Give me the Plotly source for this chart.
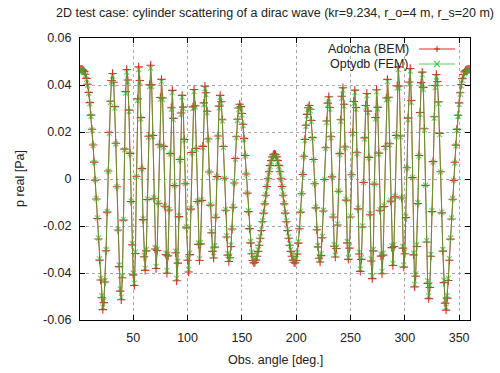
import plotly.graph_objects as go

# Observation angles [deg], one sample per degree
angles = list(range(1, 361))

# Real part of the pressure at r_s, boundary element solution
p_bem = [
    0.0467, 0.0467, 0.0466, 0.0463, 0.0457, 0.0446, 0.0428, 0.0403, 0.0368, 0.0325,
    0.0272, 0.0212, 0.0145, 0.0072, -0.0005, -0.0085, -0.0168, -0.0255, -0.0345, -0.0430,
    -0.0505, -0.0556, -0.0526, -0.0438, -0.0305, -0.0141, 0.0034, 0.0198, 0.0331, 0.0419,
    0.0449, 0.0412, 0.0308, 0.0152, -0.0033, -0.0217, -0.0373, -0.0477, -0.0514, -0.0420,
    -0.0175, 0.0127, 0.0372, 0.0466, 0.0421, 0.0293, 0.0109, -0.0096, -0.0280, -0.0408,
    -0.0453, -0.0317, 0.0012, 0.0341, 0.0477, 0.0419, 0.0261, 0.0044, -0.0173, -0.0331,
    -0.0389, -0.0306, -0.0087, 0.0182, 0.0401, 0.0484, 0.0401, 0.0185, -0.0082, -0.0298,
    -0.0381, -0.0304, -0.0103, 0.0146, 0.0347, 0.0424, 0.0345, 0.0139, -0.0116, -0.0322,
    -0.0401, -0.0327, -0.0132, 0.0108, 0.0303, 0.0377, 0.0258, -0.0028, -0.0314, -0.0433,
    -0.0358, -0.0160, 0.0083, 0.0281, 0.0356, 0.0306, 0.0168, -0.0020, -0.0208, -0.0346,
    -0.0396, -0.0322, -0.0128, 0.0113, 0.0307, 0.0381, 0.0312, 0.0130, -0.0096, -0.0278,
    -0.0347, -0.0276, -0.0091, 0.0139, 0.0324, 0.0395, 0.0367, 0.0288, 0.0170, 0.0030,
    -0.0111, -0.0229, -0.0308, -0.0336, -0.0290, -0.0163, 0.0010, 0.0183, 0.0310, 0.0356,
    0.0329, 0.0252, 0.0138, 0.0003, -0.0133, -0.0247, -0.0324, -0.0351, -0.0335, -0.0287,
    -0.0213, -0.0120, -0.0017, 0.0087, 0.0180, 0.0254, 0.0302, 0.0318, 0.0308, 0.0279,
    0.0233, 0.0172, 0.0100, 0.0021, -0.0060, -0.0139, -0.0211, -0.0272, -0.0318, -0.0347,
    -0.0357, -0.0354, -0.0345, -0.0329, -0.0308, -0.0282, -0.0252, -0.0219, -0.0182, -0.0145,
    -0.0106, -0.0069, -0.0032, 0.0001, 0.0031, 0.0057, 0.0078, 0.0094, 0.0103, 0.0106,
    0.0103, 0.0094, 0.0078, 0.0057, 0.0031, 0.0001, -0.0032, -0.0069, -0.0106, -0.0145,
    -0.0182, -0.0219, -0.0252, -0.0282, -0.0308, -0.0329, -0.0345, -0.0354, -0.0357, -0.0347,
    -0.0319, -0.0273, -0.0212, -0.0141, -0.0063, 0.0019, 0.0097, 0.0168, 0.0229, 0.0275,
    0.0303, 0.0313, 0.0297, 0.0249, 0.0176, 0.0083, -0.0020, -0.0123, -0.0216, -0.0289,
    -0.0337, -0.0353, -0.0326, -0.0250, -0.0136, -0.0002, 0.0133, 0.0247, 0.0323, 0.0350,
    0.0304, 0.0180, 0.0009, -0.0162, -0.0286, -0.0332, -0.0296, -0.0196, -0.0052, 0.0108,
    0.0252, 0.0352, 0.0388, 0.0318, 0.0136, -0.0090, -0.0272, -0.0342, -0.0294, -0.0162,
    0.0018, 0.0198, 0.0330, 0.0378, 0.0304, 0.0112, -0.0127, -0.0319, -0.0393, -0.0342,
    -0.0204, -0.0015, 0.0175, 0.0313, 0.0364, 0.0289, 0.0092, -0.0152, -0.0349, -0.0424,
    -0.0306, -0.0022, 0.0262, 0.0380, 0.0305, 0.0110, -0.0133, -0.0328, -0.0403, -0.0324,
    -0.0117, 0.0138, 0.0345, 0.0424, 0.0348, 0.0150, -0.0094, -0.0292, -0.0368, -0.0287,
    -0.0076, 0.0185, 0.0396, 0.0477, 0.0396, 0.0183, -0.0081, -0.0294, -0.0375, -0.0318,
    -0.0164, 0.0048, 0.0259, 0.0413, 0.0470, 0.0334, 0.0006, -0.0323, -0.0459, -0.0414,
    -0.0287, -0.0104, 0.0100, 0.0283, 0.0410, 0.0455, 0.0390, 0.0214, -0.0027, -0.0268,
    -0.0444, -0.0509, -0.0462, -0.0329, -0.0138, 0.0074, 0.0265, 0.0398, 0.0445, 0.0415,
    0.0328, 0.0194, 0.0031, -0.0144, -0.0307, -0.0441, -0.0528, -0.0558, -0.0507, -0.0432,
    -0.0346, -0.0256, -0.0170, -0.0086, -0.0006, 0.0071, 0.0144, 0.0211, 0.0271, 0.0324,
    0.0367, 0.0402, 0.0427, 0.0445, 0.0456, 0.0462, 0.0465, 0.0466, 0.0467, 0.0467,
]

# Same quantity, finite element solution
p_fem = [
    0.0462, 0.0463, 0.0462, 0.0459, 0.0453, 0.0442, 0.0424, 0.0399, 0.0364, 0.0321,
    0.0268, 0.0209, 0.0143, 0.0071, -0.0004, -0.0083, -0.0165, -0.0251, -0.0340, -0.0423,
    -0.0496, -0.0545, -0.0518, -0.0432, -0.0301, -0.0139, 0.0033, 0.0195, 0.0326, 0.0411,
    0.0439, 0.0404, 0.0303, 0.0150, -0.0032, -0.0213, -0.0366, -0.0468, -0.0503, -0.0412,
    -0.0172, 0.0124, 0.0365, 0.0455, 0.0413, 0.0288, 0.0107, -0.0094, -0.0275, -0.0400,
    -0.0443, -0.0311, 0.0011, 0.0334, 0.0466, 0.0411, 0.0256, 0.0043, -0.0170, -0.0324,
    -0.0380, -0.0300, -0.0085, 0.0178, 0.0393, 0.0472, 0.0393, 0.0181, -0.0080, -0.0292,
    -0.0372, -0.0298, -0.0101, 0.0143, 0.0340, 0.0414, 0.0338, 0.0136, -0.0114, -0.0315,
    -0.0390, -0.0320, -0.0129, 0.0106, 0.0297, 0.0368, 0.0253, -0.0027, -0.0307, -0.0422,
    -0.0350, -0.0157, 0.0081, 0.0275, 0.0348, 0.0300, 0.0165, -0.0020, -0.0204, -0.0338,
    -0.0385, -0.0315, -0.0125, 0.0111, 0.0300, 0.0372, 0.0306, 0.0127, -0.0094, -0.0272,
    -0.0339, -0.0270, -0.0089, 0.0136, 0.0317, 0.0385, 0.0359, 0.0282, 0.0167, 0.0029,
    -0.0109, -0.0224, -0.0301, -0.0328, -0.0284, -0.0160, 0.0010, 0.0179, 0.0303, 0.0347,
    0.0322, 0.0247, 0.0135, 0.0003, -0.0130, -0.0242, -0.0317, -0.0342, -0.0327, -0.0281,
    -0.0209, -0.0118, -0.0017, 0.0085, 0.0176, 0.0249, 0.0295, 0.0310, 0.0301, 0.0273,
    0.0228, 0.0168, 0.0098, 0.0021, -0.0059, -0.0136, -0.0207, -0.0266, -0.0311, -0.0339,
    -0.0348, -0.0345, -0.0337, -0.0321, -0.0301, -0.0275, -0.0246, -0.0214, -0.0178, -0.0142,
    -0.0104, -0.0068, -0.0032, 0.0000, 0.0029, 0.0054, 0.0074, 0.0089, 0.0097, 0.0100,
    0.0097, 0.0089, 0.0074, 0.0054, 0.0029, 0.0000, -0.0032, -0.0068, -0.0104, -0.0142,
    -0.0178, -0.0214, -0.0246, -0.0275, -0.0301, -0.0321, -0.0337, -0.0345, -0.0348, -0.0339,
    -0.0312, -0.0267, -0.0208, -0.0138, -0.0062, 0.0019, 0.0095, 0.0164, 0.0224, 0.0269,
    0.0296, 0.0306, 0.0290, 0.0244, 0.0172, 0.0081, -0.0020, -0.0120, -0.0211, -0.0283,
    -0.0329, -0.0344, -0.0318, -0.0244, -0.0133, -0.0002, 0.0130, 0.0241, 0.0315, 0.0341,
    0.0297, 0.0176, 0.0009, -0.0158, -0.0279, -0.0324, -0.0289, -0.0191, -0.0051, 0.0106,
    0.0246, 0.0343, 0.0378, 0.0310, 0.0133, -0.0088, -0.0266, -0.0334, -0.0287, -0.0158,
    0.0018, 0.0193, 0.0322, 0.0369, 0.0297, 0.0109, -0.0124, -0.0311, -0.0383, -0.0334,
    -0.0199, -0.0015, 0.0171, 0.0305, 0.0355, 0.0282, 0.0090, -0.0148, -0.0340, -0.0413,
    -0.0299, -0.0021, 0.0256, 0.0371, 0.0298, 0.0107, -0.0130, -0.0320, -0.0393, -0.0316,
    -0.0114, 0.0135, 0.0337, 0.0414, 0.0340, 0.0146, -0.0092, -0.0285, -0.0359, -0.0280,
    -0.0074, 0.0181, 0.0387, 0.0465, 0.0387, 0.0179, -0.0079, -0.0287, -0.0366, -0.0310,
    -0.0160, 0.0047, 0.0253, 0.0403, 0.0459, 0.0326, 0.0006, -0.0315, -0.0448, -0.0404,
    -0.0280, -0.0101, 0.0098, 0.0276, 0.0400, 0.0444, 0.0381, 0.0209, -0.0026, -0.0262,
    -0.0433, -0.0497, -0.0451, -0.0321, -0.0135, 0.0072, 0.0259, 0.0389, 0.0434, 0.0405,
    0.0320, 0.0189, 0.0030, -0.0141, -0.0300, -0.0430, -0.0515, -0.0545, -0.0496, -0.0423,
    -0.0339, -0.0251, -0.0166, -0.0084, -0.0006, 0.0069, 0.0141, 0.0207, 0.0266, 0.0318,
    0.0361, 0.0396, 0.0421, 0.0439, 0.0450, 0.0457, 0.0460, 0.0461, 0.0462, 0.0462,
]

series_names = ["Adocha (BEM)", "Optydb (FEM)"]
x_ticks = [50, 100, 150, 200, 250, 300, 350]
y_ticks = [-0.06, -0.04, -0.02, 0, 0.02, 0.04, 0.06]
y_tick_text = ["-0.06", "-0.04", "-0.02", "0", "0.02", "0.04", "0.06"]

RED = "#e02828"
GREEN = "#30c030"
FONT = "Liberation Sans, Arial, sans-serif"
TXT = "#222222"

fig = go.Figure()
fig.add_trace(go.Scatter(
    x=angles, y=p_bem, mode="lines+markers", name=series_names[0],
    line=dict(color=RED, width=1),
    marker=dict(symbol="cross-thin", size=6, line=dict(color=RED, width=1.1)),
))
fig.add_trace(go.Scatter(
    x=angles, y=p_fem, mode="lines+markers", name=series_names[1],
    line=dict(color=GREEN, width=1), opacity=0.7,
    marker=dict(symbol="x-thin", size=5, line=dict(color=GREEN, width=1.1)),
))

axis_common = dict(
    showline=True, linecolor="black", linewidth=1, mirror="ticks",
    ticks="inside", ticklen=5, tickcolor="black",
    showgrid=True, gridcolor="#a8a8a8", griddash="dot", gridwidth=1,
    zeroline=False, tickfont=dict(family=FONT, size=12.5, color=TXT),
)

fig.update_layout(
    width=500, height=373,
    margin=dict(l=80, r=30, t=38, b=53),
    paper_bgcolor="white", plot_bgcolor="white",
    showlegend=False,
    font=dict(family=FONT, size=12.5, color=TXT),
    title=dict(
        text="2D test case: cylinder scattering of a dirac wave (kr=9.234, r_o=4 m, r_s=20 m)",
        x=0.55, xanchor="center", y=1 - 13 / 373, yanchor="middle",
        font=dict(family=FONT, size=12.5, color=TXT),
    ),
    xaxis=dict(range=[1, 360], tickvals=x_ticks, ticklabelstandoff=6, **axis_common),
    yaxis=dict(range=[-0.06, 0.06], tickvals=y_ticks, ticktext=y_tick_text,
               ticklabelstandoff=5, **axis_common),
)

# Axis titles
fig.add_annotation(text="Obs. angle [deg.]", xref="paper", yref="paper",
                   x=0.5, y=-40 / 282, xanchor="center", yanchor="middle",
                   showarrow=False, font=dict(family=FONT, size=12.5, color=TXT))
fig.add_annotation(text="p real [Pa]", xref="paper", yref="paper",
                   x=-60 / 390, y=0.5, xanchor="center", yanchor="middle",
                   textangle=-90, showarrow=False,
                   font=dict(family=FONT, size=12.5, color=TXT))

# Key in the upper right corner: label first, then line sample with its point
def px_x(px):
    return (px - 80) / 390


def px_y(py):
    return (320 - py) / 282


key_rows = [(49, RED, "plus", 1.0), (64, GREEN, "cross", 0.8)]
for (row_y, color, kind, alpha), label in zip(key_rows, series_names):
    fig.add_annotation(text=label, xref="paper", yref="paper",
                       x=px_x(411), y=px_y(row_y), xanchor="right", yanchor="middle",
                       showarrow=False, font=dict(family=FONT, size=12.5, color=TXT))
    fig.add_shape(type="line", xref="paper", yref="paper", opacity=alpha,
                  x0=px_x(419), x1=px_x(455), y0=px_y(row_y), y1=px_y(row_y),
                  line=dict(color=color, width=1))
    cx, h = 437, 3
    if kind == "plus":
        segs = [((cx - h, row_y), (cx + h, row_y)), ((cx, row_y - h), (cx, row_y + h))]
    else:
        segs = [((cx - h, row_y - h), (cx + h, row_y + h)), ((cx - h, row_y + h), (cx + h, row_y - h))]
    for (ax, ay), (bx, by) in segs:
        fig.add_shape(type="line", xref="paper", yref="paper", opacity=alpha,
                      x0=px_x(ax), y0=px_y(ay), x1=px_x(bx), y1=px_y(by),
                      line=dict(color=color, width=1.1))

fig.write_html("out.html")
